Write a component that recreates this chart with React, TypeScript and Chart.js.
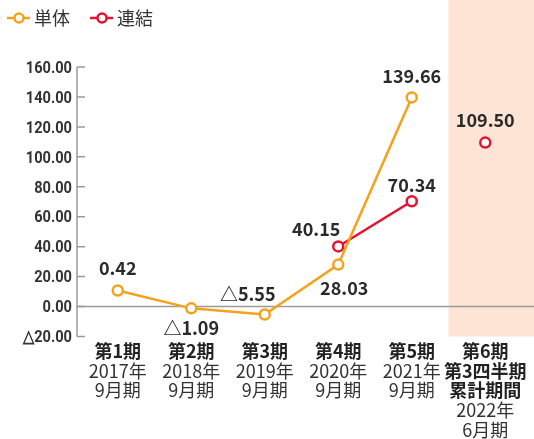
import { useEffect, useRef } from 'react';
import { Chart, registerables } from 'chart.js';

Chart.register(...registerables);

// ---- data ----
const categories = ['第1期', '第2期', '第3期', '第4期', '第5期', '第6期'];
const boldLines = [['第1期'], ['第2期'], ['第3期'], ['第4期'], ['第5期'], ['第6期', '第3四半期', '累計期間']];
const regularLines = [
  ['2017年', '9月期'],
  ['2018年', '9月期'],
  ['2019年', '9月期'],
  ['2020年', '9月期'],
  ['2021年', '9月期'],
  ['2022年', '6月期'],
];
// reported values (labels)
const tantaiValues: (number | null)[] = [0.42, -1.09, -5.55, 28.03, 139.66, null];
const renketsuValues: (number | null)[] = [null, null, null, 40.15, 70.34, 109.5];
// plotted heights as drawn in the picture
const tantaiPlotted: (number | null)[] = [10.7, -1.2, -5.3, 28.03, 139.66, null];
const renketsuLine: (number | null)[] = [null, null, null, 40.15, 70.34, null];
const renketsuCumulative: (number | null)[] = [null, null, null, null, null, 109.5];
const yTicks = [-20, 0, 20, 40, 60, 80, 100, 120, 140, 160];

// label offsets (style, px)
const tantaiLabelOffsets = [[0, -22], [0, 20], [-17, -20], [6, 24], [0, -21], [0, 0]];
const renketsuLabelOffsets = [[0, 0], [0, 0], [0, 0], [-22, -17], [0, -16], [0, -22]];

const ORANGE = '#F4A21C';
const RED = '#E5122F';
const SHADE = '#FDE4D4';
const CJK = '"Noto Sans CJK JP", "Noto Sans", sans-serif';

const fmt = (v: number) => (v < 0 ? '△' + Math.abs(v).toFixed(2) : v.toFixed(2));

const decorPlugin = {
  id: 'decor',
  beforeDraw(chart: any) {
    const { ctx, chartArea, scales } = chart;
    const x = scales.x;
    const y = scales.y;
    ctx.save();
    // shaded column for last category
    const sx = (x.getPixelForValue(4) + x.getPixelForValue(5)) / 2;
    ctx.fillStyle = SHADE;
    ctx.fillRect(sx, 0, chart.width - sx, chartArea.bottom);
    // axis line & inward ticks
    const ax = chartArea.left - 4;
    ctx.strokeStyle = '#9a9a9a';
    ctx.lineWidth = 1.5;
    ctx.beginPath();
    ctx.moveTo(ax, y.getPixelForValue(yTicks[yTicks.length - 1]));
    ctx.lineTo(ax, y.getPixelForValue(yTicks[0]));
    yTicks.forEach((t) => {
      const py = y.getPixelForValue(t);
      ctx.moveTo(ax, py);
      ctx.lineTo(ax + 8, py);
    });
    ctx.stroke();
    // zero line
    const zy = y.getPixelForValue(0);
    ctx.beginPath();
    ctx.moveTo(ax, zy);
    ctx.lineTo(chart.width, zy);
    ctx.stroke();
    // y tick labels (condensed look)
    ctx.fillStyle = '#333';
    ctx.font = 'bold 17px Roboto, "Liberation Sans", sans-serif';
    ctx.textAlign = 'right';
    ctx.textBaseline = 'middle';
    yTicks.forEach((t) => {
      const py = y.getPixelForValue(t) + 1.5;
      ctx.save();
      ctx.translate(ax - 5, py);
      ctx.scale(0.86, 1);
      ctx.fillText(fmt(t), 0, 0);
      ctx.restore();
    });
    ctx.restore();
  },
  afterDraw(chart: any) {
    const { ctx, scales } = chart;
    const x = scales.x;
    ctx.save();
    ctx.textAlign = 'center';
    ctx.textBaseline = 'middle';
    // x labels
    categories.forEach((_, i) => {
      const px = x.getPixelForValue(i);
      let py = 351;
      ctx.fillStyle = '#222';
      ctx.font = 'bold 18px ' + CJK;
      boldLines[i].forEach((t) => {
        ctx.fillText(t, px, py);
        py += 19.7;
      });
      ctx.fillStyle = '#333';
      ctx.font = '18px ' + CJK;
      regularLines[i].forEach((t) => {
        ctx.fillText(t, px, py);
        py += 19.7;
      });
    });
    // data labels
    ctx.font = 'bold 18px ' + CJK;
    ctx.fillStyle = '#2a2a2a';
    const drawLabels = (dsIndex: number[], values: (number | null)[], offs: number[][]) => {
      values.forEach((v, i) => {
        if (v === null) return;
        let el: any = null;
        for (const d of dsIndex) {
          const meta = chart.getDatasetMeta(d);
          const e = meta.data[i];
          if (e && !e.skip && chart.data.datasets[d].data[i] !== null) {
            el = e;
            break;
          }
        }
        if (!el) return;
        ctx.fillText(fmt(v), el.x + offs[i][0], el.y + offs[i][1]);
      });
    };
    drawLabels([0], tantaiValues, tantaiLabelOffsets);
    drawLabels([1, 2], renketsuValues, renketsuLabelOffsets);
    // legend
    const items = [
      { color: ORANGE, text: '単体', x0: 7 },
      { color: RED, text: '連結', x0: 90 },
    ];
    items.forEach((it) => {
      const ly = 18;
      ctx.strokeStyle = it.color;
      ctx.lineWidth = 2.5;
      ctx.beginPath();
      ctx.moveTo(it.x0, ly);
      ctx.lineTo(it.x0 + 23, ly);
      ctx.stroke();
      ctx.fillStyle = '#fff';
      ctx.beginPath();
      ctx.arc(it.x0 + 12, ly, 4.5, 0, Math.PI * 2);
      ctx.fill();
      ctx.stroke();
      ctx.fillStyle = '#333';
      ctx.font = '18px ' + CJK;
      ctx.textAlign = 'left';
      ctx.fillText(it.text, it.x0 + 27, ly);
    });
    ctx.restore();
  },
};

export default function App() {
  const ref = useRef<HTMLCanvasElement>(null);
  useEffect(() => {
    if (!ref.current) return;
    const pointCommon = {
      pointRadius: 5,
      pointHoverRadius: 5,
      pointBackgroundColor: '#fff',
      pointBorderWidth: 2.5,
      borderWidth: 2.5,
      tension: 0,
      spanGaps: false,
    };
    const chart = new Chart(ref.current, {
      type: 'line',
      data: {
        labels: categories,
        datasets: [
          { label: '単体', data: tantaiPlotted, borderColor: ORANGE, pointBorderColor: ORANGE, ...pointCommon },
          { label: '連結', data: renketsuLine, borderColor: RED, pointBorderColor: RED, ...pointCommon },
          { label: '連結累計', data: renketsuCumulative, borderColor: RED, pointBorderColor: RED, showLine: false, ...pointCommon },
        ],
      },
      options: {
        animation: false,
        responsive: false,
        layout: { padding: { left: 0, right: 12, top: 67, bottom: 102.5 } },
        plugins: { legend: { display: false }, tooltip: { enabled: false } },
        scales: {
          x: { display: false, offset: true },
          y: {
            min: -20,
            max: 160,
            afterFit: (s: any) => {
              s.width = 81;
            },
            afterBuildTicks: (s: any) => {
              s.ticks = yTicks.map((v) => ({ value: v }));
            },
            grid: { display: false, drawTicks: false },
            border: { display: false },
            ticks: { display: false },
          },
        },
      },
      plugins: [decorPlugin],
    });
    return () => chart.destroy();
  }, []);
  return (
    <canvas
      ref={ref}
      width={534}
      height={439}
      style={{ position: 'fixed', left: 0, top: 0, width: 534, height: 439 }}
    />
  );
}
